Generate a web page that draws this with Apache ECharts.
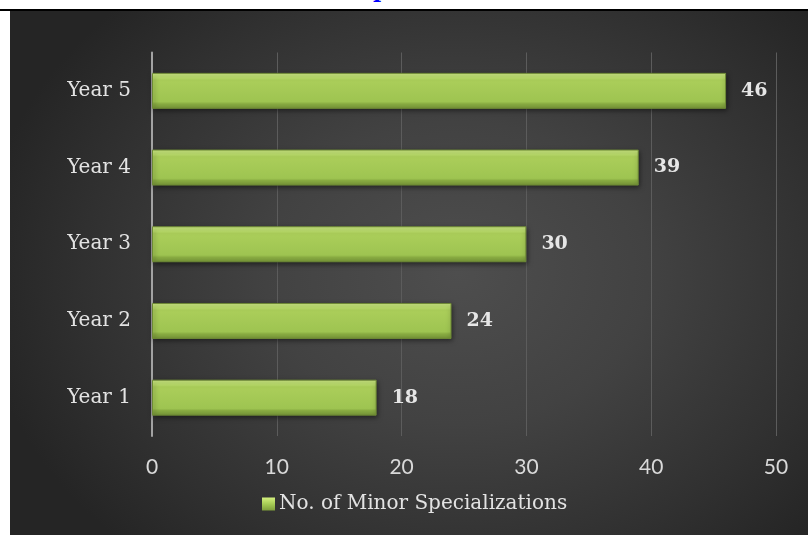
<!DOCTYPE html>
<html>
<head>
<meta charset="utf-8">
<script src="https://cdn.jsdelivr.net/npm/echarts@6/dist/echarts.min.js"></script>
<style>
  html, body { margin: 0; padding: 0; background: #ffffff; }
  #page { position: relative; width: 808px; height: 535px; overflow: hidden; background: #ffffff; }
  #rule { position: absolute; left: 0; top: 9px; width: 808px; height: 2px; background: #000000; }
  #heading { position: absolute; left: 373px; top: -21px; font: bold 22px/20px "DejaVu Serif", serif; color: #0000ff; white-space: nowrap; }
  #chart {
    position: absolute; left: 10px; top: 11px; width: 798px; height: 524px;
    background: radial-gradient(ellipse 60% 72% at 56% 50%, #4e4e4e 0%, #424242 40%, #303030 78%, #252525 100%);
  }
</style>
</head>
<body>
<div id="page">
  <div id="heading">p</div>
  <div id="rule"></div>
  <div id="chart"></div>
</div>
<script>
// Minor specializations offered per year
const categories = ['Year 1', 'Year 2', 'Year 3', 'Year 4', 'Year 5'];
const minorCounts = [18, 24, 30, 39, 46];
const seriesName = 'No. of Minor Specializations';
const xTicks = { min: 0, max: 50, interval: 10 };

const chart = echarts.init(document.getElementById('chart'), null, { renderer: 'canvas' });

const barFill = {
  type: 'linear', x: 0, y: 0, x2: 0, y2: 1,
  colorStops: [
    { offset: 0.00, color: '#d0ec86' },
    { offset: 0.14, color: '#bde06c' },
    { offset: 0.20, color: '#abce5a' },
    { offset: 0.80, color: '#9ec451' },
    { offset: 0.86, color: '#89ac42' },
    { offset: 1.00, color: '#779638' }
  ]
};

const legendFill = {
  type: 'linear', x: 0, y: 0, x2: 0, y2: 1,
  colorStops: [
    { offset: 0, color: '#d4f07e' },
    { offset: 0.5, color: '#a6cc55' },
    { offset: 1, color: '#7e9e3b' }
  ]
};

chart.setOption({
  backgroundColor: 'transparent',
  animation: false,
  grid: { left: 142, right: 32, top: 41.5, bottom: 99, containLabel: false },
  xAxis: {
    type: 'value',
    min: xTicks.min, max: xTicks.max, interval: xTicks.interval,
    axisLine: { show: false },
    axisTick: { show: false },
    splitLine: { show: true, lineStyle: { color: '#5c5c5c', width: 1 } },
    axisLabel: { color: '#d9d9d9', fontFamily: 'Lato', fontSize: 21, margin: 21 }
  },
  yAxis: {
    type: 'category',
    data: categories,
    axisLine: { show: true, lineStyle: { color: '#a3a3a3', width: 2 } },
    axisTick: { show: false },
    splitLine: { show: false },
    axisLabel: { color: '#e3e3e3', fontFamily: 'DejaVu Serif', fontSize: 20, margin: 21 }
  },
  legend: {
    show: true,
    left: 252, top: 483, padding: 0,
    itemWidth: 13, itemHeight: 13, itemGap: 6,
    icon: 'rect',
    itemStyle: { color: legendFill, borderWidth: 0 },
    textStyle: { color: '#e3e3e3', fontFamily: 'DejaVu Serif', fontSize: 20, padding: [0, 0, 0, -1] },
    data: [seriesName]
  },
  series: [{
    name: seriesName,
    type: 'bar',
    data: minorCounts,
    barWidth: 36,
    itemStyle: {
      color: barFill,
      borderColor: '#6e8a36',
      borderWidth: 1,
      shadowColor: 'rgba(0,0,0,0.55)',
      shadowBlur: 5,
      shadowOffsetX: 1,
      shadowOffsetY: 2
    },
    label: {
      show: true,
      position: 'right',
      distance: 15,
      color: '#e6e6e6',
      fontFamily: 'DejaVu Serif',
      fontWeight: 'bold',
      fontSize: 19
    }
  }]
});
</script>
</body>
</html>
